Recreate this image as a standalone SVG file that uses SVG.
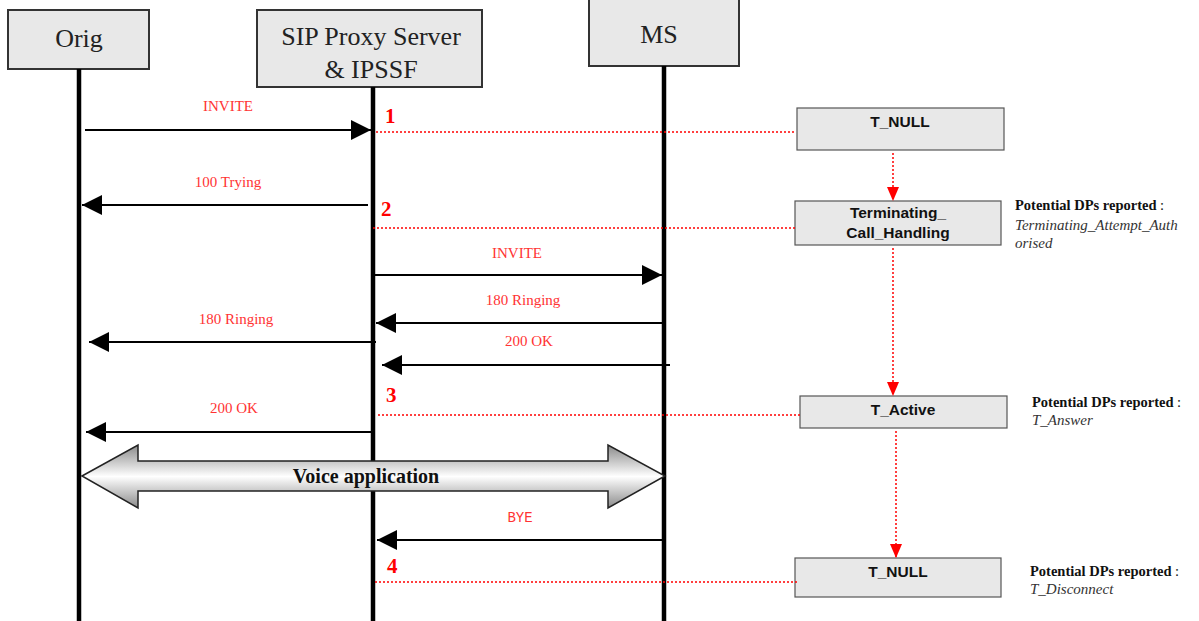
<svg xmlns="http://www.w3.org/2000/svg" width="1199" height="621" viewBox="0 0 1199 621">
<defs>
<style>
.hdr{fill:#e8e8e8;stroke:#333;stroke-width:2}
.hdrt{font-family:"Liberation Serif",serif;font-size:26px;fill:#222;text-anchor:middle}
.life{stroke:#000;stroke-width:4.5}
.msg{stroke:#000;stroke-width:2;fill:none}
.mt{font-family:"Liberation Serif",serif;font-size:15px;fill:#ff3333;text-anchor:middle}
.num{font-family:"Liberation Serif",serif;font-size:21px;font-weight:bold;fill:#ff0000}
.dot{stroke:#ff0000;stroke-width:1.5;stroke-dasharray:2 2;fill:none}
.st{fill:#e8e8e8;stroke:#555;stroke-width:1.2}
.stt{font-family:"Liberation Sans",Arial,sans-serif;font-size:15.5px;font-weight:bold;fill:#111;text-anchor:middle}
.pd{font-family:"Liberation Serif",serif;font-size:14.5px;font-weight:bold;fill:#111}
.pi{font-family:"Liberation Serif",serif;font-size:15px;font-style:italic;fill:#333}
</style>
<marker id="ah" viewBox="0 0 20 20" refX="20" refY="10" markerWidth="20" markerHeight="20" markerUnits="userSpaceOnUse" orient="auto">
<path d="M0,0 L20,10 L0,20 Z" fill="#000"/>
</marker>
<marker id="rh" viewBox="0 0 14 12" refX="14" refY="6" markerWidth="14" markerHeight="12" markerUnits="userSpaceOnUse" orient="auto">
<path d="M0,0 L14,6 L0,12 Z" fill="#ff0000"/>
</marker>
<linearGradient id="metal" x1="0" y1="0" x2="0" y2="1">
<stop offset="0" stop-color="#8a8a8a"/>
<stop offset="0.5" stop-color="#ffffff"/>
<stop offset="1" stop-color="#8a8a8a"/>
</linearGradient>
</defs>

<g id="node-orig">
<rect class="hdr" x="8" y="10" width="141" height="59"/>
<text class="hdrt" x="79" y="47">Orig</text>
</g>
<g id="node-sip">
<rect class="hdr" x="257" y="10" width="225" height="77"/>
<text class="hdrt" x="371" y="45">SIP Proxy Server</text>
<text class="hdrt" x="371" y="78">&amp; IPSSF</text>
</g>
<g id="node-ms">
<rect class="hdr" x="589" y="-2" width="150" height="68"/>
<text class="hdrt" x="659" y="43">MS</text>
</g>

<g id="lifelines">
<line class="life" x1="79" y1="69" x2="79" y2="621"/>
<line class="life" x1="373" y1="87" x2="373" y2="621"/>
<line class="life" x1="664" y1="66" x2="664" y2="621"/>
</g>

<g id="node-tnull1">
<rect class="st" x="797" y="108" width="207" height="42"/>
<text class="stt" x="900" y="127">T_NULL</text>
</g>
<g id="node-tch">
<rect class="st" x="795" y="201" width="206" height="44"/>
<text class="stt" x="898" y="218">Terminating_</text>
<text class="stt" x="898" y="238">Call_Handling</text>
</g>
<g id="node-tactive">
<rect class="st" x="800" y="396" width="207" height="32"/>
<text class="stt" x="903" y="415">T_Active</text>
</g>
<g id="node-tnull2">
<rect class="st" x="795" y="558" width="206" height="39"/>
<text class="stt" x="898" y="577">T_NULL</text>
</g>

<g id="voice">
<path d="M82,476 L138,445 L138,461 L608,461 L608,445 L665,476 L608,508 L608,491 L138,491 L138,508 Z" fill="url(#metal)" stroke="#222" stroke-width="1.5"/>
<text x="366" y="483" font-family="Liberation Serif,serif" font-size="20" font-weight="bold" fill="#111" text-anchor="middle">Voice application</text>
</g>

<g id="connectors">
<line class="msg" x1="85" y1="130" x2="371" y2="130" marker-end="url(#ah)"/>
<line class="msg" x1="368" y1="205" x2="82" y2="205" marker-end="url(#ah)"/>
<line class="msg" x1="375" y1="275" x2="662" y2="275" marker-end="url(#ah)"/>
<line class="msg" x1="664" y1="323" x2="376" y2="323" marker-end="url(#ah)"/>
<line class="msg" x1="376" y1="342" x2="89" y2="342" marker-end="url(#ah)"/>
<line class="msg" x1="670" y1="365" x2="382" y2="365" marker-end="url(#ah)"/>
<line class="msg" x1="372" y1="432" x2="86" y2="432" marker-end="url(#ah)"/>
<line class="msg" x1="664" y1="540" x2="377" y2="540" marker-end="url(#ah)"/>

<line class="dot" x1="376" y1="132" x2="795" y2="132"/>
<line class="dot" x1="373" y1="228" x2="795" y2="228"/>
<line class="dot" x1="378" y1="415" x2="800" y2="415"/>
<line class="dot" x1="375" y1="582" x2="798" y2="582"/>

<line class="dot" x1="893" y1="153" x2="893" y2="201" marker-end="url(#rh)"/>
<line class="dot" x1="893" y1="248" x2="893" y2="396" marker-end="url(#rh)"/>
<line class="dot" x1="896" y1="431" x2="896" y2="558" marker-end="url(#rh)"/>
</g>

<g id="labels">
<text class="mt" x="228" y="111">INVITE</text>
<text class="mt" x="228" y="187">100 Trying</text>
<text class="mt" x="517" y="258">INVITE</text>
<text class="mt" x="523" y="305">180 Ringing</text>
<text class="mt" x="236" y="324">180 Ringing</text>
<text class="mt" x="529" y="346">200 OK</text>
<text class="mt" x="234" y="413">200 OK</text>
<text x="520" y="522" font-family="Liberation Mono,monospace" font-size="14" fill="#ff3333" text-anchor="middle">BYE</text>

<text class="num" x="385" y="123">1</text>
<text class="num" x="381" y="216">2</text>
<text class="num" x="386" y="402">3</text>
<text class="num" x="387" y="573">4</text>

<text class="pd" x="1015" y="210">Potential DPs reported <tspan font-weight="normal">:</tspan></text>
<text class="pi" x="1015" y="230">Terminating_Attempt_Auth</text>
<text class="pi" x="1015" y="248">orised</text>
<text class="pd" x="1032" y="407">Potential DPs reported <tspan font-weight="normal">:</tspan></text>
<text class="pi" x="1032" y="425">T_Answer</text>
<text class="pd" x="1030" y="576">Potential DPs reported <tspan font-weight="normal">:</tspan></text>
<text class="pi" x="1030" y="594">T_Disconnect</text>
</g>
</svg>
